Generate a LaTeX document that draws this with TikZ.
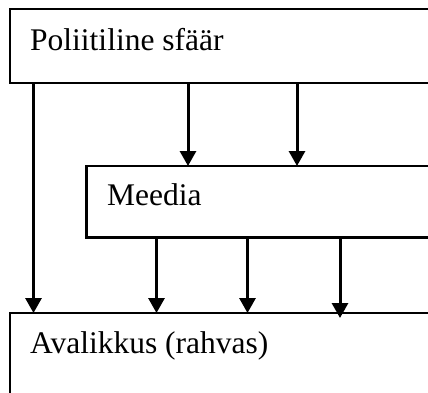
\documentclass[tikz,border=0pt]{standalone}
\usepackage{fontspec}
\setmainfont{Liberation Serif}
\usetikzlibrary{arrows.meta}
\begin{document}
\begin{tikzpicture}[x=1pt,y=-1pt,
  box/.style={draw, line width=2.2pt, minimum width=450pt, anchor=north west, inner sep=0pt, outer sep=0pt},
  lbl/.style={anchor=base west, font=\fontsize{31.5}{36}\selectfont, inner sep=0pt},
  arr/.style={line width=3pt, -{Triangle[width=16pt,length=15pt]}}]
\useasboundingbox (0,0) rectangle (428,392);
\clip (0,0) rectangle (428,392);
\node[box, minimum height=74pt] (pol) at (10,9) {};
\node[box, minimum height=71.5pt] (mee) at (86.5,166) {};
\node[box, minimum height=120pt] (ava) at (10,313) {};
\node[lbl] (tpol) at (30,50) {Poliitiline sfäär};
\node[lbl] (tmee) at (107,205.5) {Meedia};
\node[lbl] (tava) at (30,353) {Avalikkus (rahvas)};
\coordinate (x1) at (33.5,0);
\coordinate (x2) at (188,0);
\coordinate (x3) at (297,0);
\coordinate (x4) at (156.5,0);
\coordinate (x5) at (247.5,0);
\coordinate (x6) at (340,0);
\coordinate (e6) at (340,318);
\draw[arr] (pol.south -| x1) -- (ava.north -| x1);
\draw[arr] (pol.south -| x2) -- (mee.north -| x2);
\draw[arr] (pol.south -| x3) -- (mee.north -| x3);
\draw[arr] (mee.south -| x4) -- (ava.north -| x4);
\draw[arr] (mee.south -| x5) -- (ava.north -| x5);
\draw[arr] (mee.south -| x6) -- (e6);
\end{tikzpicture}
\end{document}
